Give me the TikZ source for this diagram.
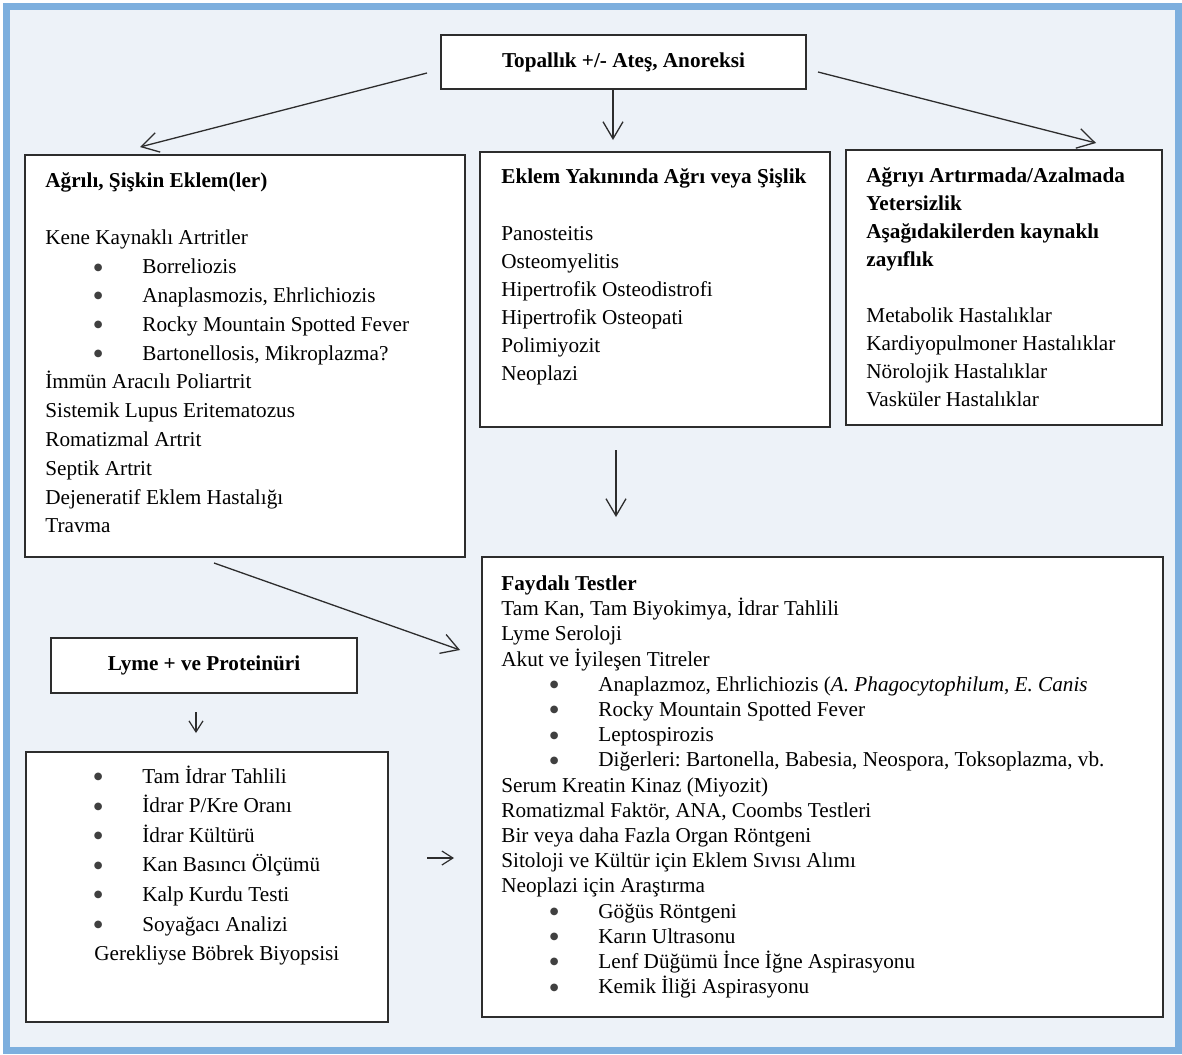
\documentclass[tikz,border=0pt]{standalone}
\usepackage{fontspec}
\setmainfont{Liberation Serif}
\newfontfamily\djv{DejaVu Sans}
\usetikzlibrary{arrows.meta,calc}

\definecolor{zemin}{RGB}{237,242,248}
\definecolor{cerceve}{RGB}{125,175,222}
\definecolor{cizgi}{RGB}{45,45,45}
\newcommand{\nokta}{\textcolor{black!75}{\raisebox{1.8pt}{\fontsize{5}{6}\djv ●}}}
\newcommand{\bul}[1]{\hspace*{24.2pt}\makebox[24.3pt][l]{\nokta}#1}
\frenchspacing

\tikzset{
  kutu/.style={draw=cizgi, line width=1pt, fill=white, anchor=north west, inner sep=0pt, outer sep=0pt},
  yazi/.style={anchor=north west, inner sep=0pt, align=left, text=black},
  ok/.style={draw=cizgi, line width=0.65pt, -{Straight Barb[length=8.5pt,width=10pt]}},
  kok/.style={draw=cizgi, line width=0.6pt, -{Straight Barb[length=5.5pt,width=7pt]}},
}

\begin{document}
\begin{tikzpicture}[x=0.5pt, y=-0.5pt]
\useasboundingbox (0,0) rectangle (1182,1054);
\fill[zemin] (6,6) rectangle (1179,1050);
\draw[cerceve, line width=3.5pt] (6.5,6.5) rectangle (1178.5,1050.5);

% kutular
\node[kutu, minimum width=182.5pt, minimum height=27pt, text=black,
  font=\fontsize{10.6}{12}\selectfont\bfseries] (topal) at (441,35) {Topallık +/- Ateş, Anoreksi};
\node[kutu, minimum width=220pt, minimum height=201pt] (ail) at (25,155) {};
\node[kutu, minimum width=175pt, minimum height=137.5pt] (yak) at (480,152) {};
\node[kutu, minimum width=158pt, minimum height=137.5pt] (zay) at (846,150) {};
\node[kutu, minimum width=340.5pt, minimum height=230pt] (test) at (482,557) {};
\node[kutu, minimum width=153pt, minimum height=27.5pt, text=black,
  font=\fontsize{10.6}{12}\selectfont\bfseries] (lyme) at (51,638) {Lyme + ve Proteinüri};
\node[kutu, minimum width=181pt, minimum height=135pt] (idrar) at (26,752) {};

% yazilar
\node[yazi, font=\fontsize{10.6}{14.4}\selectfont] (ailyazi) at (45,166.8) {\strut\textbf{Ağrılı, Şişkin Eklem(ler)}\\[14.4pt]
Kene Kaynaklı Artritler\\
\bul{Borreliozis}\\
\bul{Anaplasmozis, Ehrlichiozis}\\
\bul{Rocky Mountain Spotted Fever}\\
\bul{Bartonellosis, Mikroplazma?}\\
İmmün Aracılı Poliartrit\\
Sistemik Lupus Eritematozus\\
Romatizmal Artrit\\
Septik Artrit\\
Dejeneratif Eklem Hastalığı\\
Travma};

\node[yazi, font=\fontsize{10.6}{14}\selectfont] (yakyazi) at (501,163.4) {\strut\textbf{Eklem Yakınında Ağrı veya Şişlik}\\[14.5pt]
Panosteitis\\
Osteomyelitis\\
Hipertrofik Osteodistrofi\\
Hipertrofik Osteopati\\
Polimiyozit\\
Neoplazi};

\node[yazi, font=\fontsize{10.6}{14}\selectfont] (zayyazi) at (866,162.4) {\strut\textbf{Ağrıyı Artırmada/Azalmada}\\
\textbf{Yetersizlik}\\
\textbf{Aşağıdakilerden kaynaklı}\\
\textbf{zayıflık}\\[14pt]
Metabolik Hastalıklar\\
Kardiyopulmoner Hastalıklar\\
Nörolojik Hastalıklar\\
Vasküler Hastalıklar};

\node[yazi, font=\fontsize{10.6}{12.6}\selectfont] (testyazi) at (501,572.4) {\strut\textbf{Faydalı Testler}\\
Tam Kan, Tam Biyokimya, İdrar Tahlili\\
Lyme Seroloji\\
Akut ve İyileşen Titreler\\
\bul{Anaplazmoz, Ehrlichiozis (\textit{A. Phagocytophilum}, \textit{E. Canis}}\\
\bul{Rocky Mountain Spotted Fever}\\
\bul{Leptospirozis}\\
\bul{Diğerleri: Bartonella, Babesia, Neospora, Toksoplazma, vb.}\\
Serum Kreatin Kinaz (Miyozit)\\
Romatizmal Faktör, ANA, Coombs Testleri\\
Bir veya daha Fazla Organ Röntgeni\\
Sitoloji ve Kültür için Eklem Sıvısı Alımı\\
Neoplazi için Araştırma\\
\bul{Göğüs Röntgeni}\\
\bul{Karın Ultrasonu}\\
\bul{Lenf Düğümü İnce İğne Aspirasyonu}\\
\bul{Kemik İliği Aspirasyonu}};

\node[yazi, font=\fontsize{10.6}{14.8}\selectfont] (idraryazi) at (45,762) {\strut\bul{Tam İdrar Tahlili}\\
\bul{İdrar P/Kre Oranı}\\
\bul{İdrar Kültürü}\\
\bul{Kan Basıncı Ölçümü}\\
\bul{Kalp Kurdu Testi}\\
\bul{Soyağacı Analizi}\\
\hspace*{24.5pt}Gerekliyse Böbrek Biyopsisi};

% oklar
\coordinate (o1a) at ($(topal.west)+(-14,11)$);
\coordinate (o1b) at ($(ail.north)+(-105,-8)$);
\coordinate (o2a) at ($(topal.south)+(-10.5,0)$);
\coordinate (o2b) at ($(yak.north)+(-42,-12)$);
\coordinate (o3a) at ($(topal.east)+(12,10)$);
\coordinate (o3b) at ($(zay.north)+(92,-7)$);
\coordinate (o4a) at ($(yak.south)+(-39,23)$);
\coordinate (o4b) at ($(test.north west)+(134,-40)$);
\coordinate (o5a) at ($(ail.south)+(-31,6)$);
\coordinate (o5b) at ($(test.north west)+(-22,93)$);
\coordinate (o6a) at ($(lyme.south)+(-8,19)$);
\coordinate (o6b) at ($(idrar.north)+(-11,-19)$);
\coordinate (o7a) at ($(idrar.east)+(39,-29)$);
\coordinate (o7b) at ($(test.west)+(-28,71)$);

\draw[ok] (o1a) -- (o1b);
\draw[ok] (o2a) -- (o2b);
\draw[ok] (o3a) -- (o3b);
\draw[ok] (o4a) -- (o4b);
\draw[ok] (o5a) -- (o5b);
\draw[kok] (o6a) -- (o6b);
\draw[kok] (o7a) -- (o7b);
\end{tikzpicture}
\end{document}
